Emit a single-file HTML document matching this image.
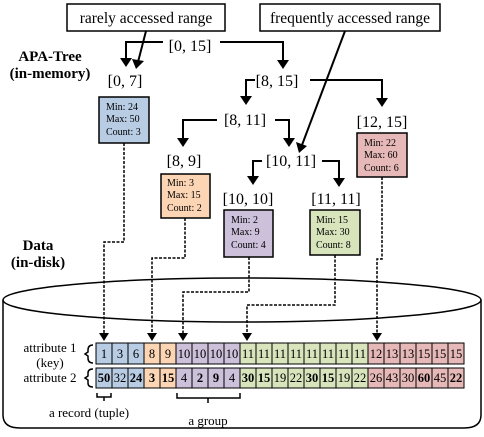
<!DOCTYPE html>
<html><head><meta charset="utf-8"><style>
html,body{margin:0;padding:0;background:#fff}
svg, svg text{font-family:"Liberation Serif","DejaVu Serif",serif}
</style></head><body>
<svg width="484" height="432" viewBox="0 0 484 432" xmlns="http://www.w3.org/2000/svg" font-family="Liberation Serif, DejaVu Serif, serif">
<!-- cylinder -->
<path d="M3,300 L3,415 Q3,428 20,428 L464,428 Q481,428 481,415 L481,300" fill="none" stroke="#000" stroke-width="1.5"/>
<ellipse cx="242" cy="300" rx="239" ry="22" fill="none" stroke="#000" stroke-width="1.5"/>
<g font-weight="bold" font-size="15" text-anchor="middle">
<text x="50" y="61">APA-Tree</text><text x="50" y="78">(in-memory)</text>
<text x="38" y="250">Data</text><text x="38" y="267">(in-disk)</text>
</g>
<rect x="67" y="4" width="158" height="27" fill="#fff" stroke="#000" stroke-width="1.5"/>
<text x="146" y="23" font-size="15.5" text-anchor="middle">rarely accessed range</text>
<rect x="260" y="4" width="180" height="27" fill="#fff" stroke="#000" stroke-width="1.5"/>
<text x="350" y="23" font-size="15.5" text-anchor="middle">frequently accessed range</text>
<g font-size="16" text-anchor="middle">
<text x="190" y="51">[0, 15]</text>
<text x="125" y="86">[0, 7]</text>
<text x="277" y="86">[8, 15]</text>
<text x="245" y="125">[8, 11]</text>
<text x="382" y="127">[12, 15]</text>
<text x="184" y="166">[8, 9]</text>
<text x="291" y="166">[10, 11]</text>
<text x="248" y="204">[10, 10]</text>
<text x="336" y="204">[11, 11]</text>
</g>
<g fill="none" stroke="#000" stroke-width="2">
<path d="M163,42 H126 V60"/><path d="M220,42 H283 V62"/>
<path d="M255,80 H246 V98"/><path d="M310,80 H382 V100"/>
<path d="M217,120 H183 V140"/><path d="M275,120 H289 V140"/>
<path d="M262,161 H253 V178"/><path d="M322,161 H339 V180"/>
<path d="M146,31 L138,62"/><path d="M345,31 L302,145"/>
</g>
<g fill="#000">
<path d="M120,58 L132,58 L126,67 Z"/><path d="M277,60 L289,60 L283,69 Z"/>
<path d="M240,96 L252,96 L246,105 Z"/><path d="M376,98 L388,98 L382,107 Z"/>
<path d="M177,138 L189,138 L183,147 Z"/><path d="M283,138 L295,138 L289,147 Z"/>
<path d="M247,176 L259,176 L253,185 Z"/><path d="M333,178 L345,178 L339,187 Z"/>
<path d="M132,59 L144,61 L136,69 Z"/><path d="M296,142 L307,146 L299,153 Z"/>
</g>
<g stroke="#000" stroke-width="1.5">
<rect x="99" y="97" width="50" height="46" fill="#b8cce4"/>
<rect x="161" y="174" width="49" height="44" fill="#fcd5b4"/>
<rect x="224" y="210" width="49" height="47" fill="#ccc0da"/>
<rect x="310" y="210" width="50" height="45" fill="#d7e4bc"/>
<rect x="357" y="133" width="50" height="44" fill="#e6b9b8"/>
</g>
<g font-size="10">
<text x="106" y="110">Min: 24</text><text x="106" y="122">Max: 50</text><text x="106" y="135">Count: 3</text>
<text x="167" y="186">Min: 3</text><text x="167" y="198">Max: 15</text><text x="167" y="211">Count: 2</text>
<text x="231" y="223">Min: 2</text><text x="231" y="235">Max: 9</text><text x="231" y="248">Count: 4</text>
<text x="316" y="223">Min: 15</text><text x="316" y="235">Max: 30</text><text x="316" y="248">Count: 8</text>
<text x="364" y="146">Min: 22</text><text x="364" y="158">Max: 60</text><text x="364" y="171">Count: 6</text>
</g>
<g fill="none" stroke="#000" stroke-width="1.5" stroke-dasharray="3,1.5">
<path d="M124,143 V242 H104 V336"/>
<path d="M185,218 V258 H152 V336"/>
<path d="M249,257 V292 H183 V336"/>
<path d="M335,255 V305 H247 V336"/>
<path d="M382,177 V259 H377 V336"/>
</g>
<g fill="#000">
<path d="M99,333 L109,333 L104,341 Z"/><path d="M147,333 L157,333 L152,341 Z"/>
<path d="M178,333 L188,333 L183,341 Z"/><path d="M242,333 L252,333 L247,341 Z"/>
<path d="M372,333 L382,333 L377,341 Z"/>
</g>
<g stroke="#000" stroke-width="1">
<rect x="96" y="343" width="16" height="21" fill="#b8cce4"/><rect x="112" y="343" width="16" height="21" fill="#b8cce4"/><rect x="128" y="343" width="16" height="21" fill="#b8cce4"/>
<rect x="144" y="343" width="16" height="21" fill="#fcd5b4"/><rect x="160" y="343" width="16" height="21" fill="#fcd5b4"/>
<rect x="176" y="343" width="16" height="21" fill="#ccc0da"/><rect x="192" y="343" width="16" height="21" fill="#ccc0da"/><rect x="208" y="343" width="16" height="21" fill="#ccc0da"/><rect x="224" y="343" width="16" height="21" fill="#ccc0da"/>
<rect x="240" y="343" width="16" height="21" fill="#d7e4bc"/><rect x="256" y="343" width="16" height="21" fill="#d7e4bc"/><rect x="272" y="343" width="16" height="21" fill="#d7e4bc"/><rect x="288" y="343" width="16" height="21" fill="#d7e4bc"/><rect x="304" y="343" width="16" height="21" fill="#d7e4bc"/><rect x="320" y="343" width="16" height="21" fill="#d7e4bc"/><rect x="336" y="343" width="16" height="21" fill="#d7e4bc"/><rect x="352" y="343" width="16" height="21" fill="#d7e4bc"/>
<rect x="368" y="343" width="16" height="21" fill="#e6b9b8"/><rect x="384" y="343" width="16" height="21" fill="#e6b9b8"/><rect x="400" y="343" width="16" height="21" fill="#e6b9b8"/><rect x="416" y="343" width="16" height="21" fill="#e6b9b8"/><rect x="432" y="343" width="16" height="21" fill="#e6b9b8"/><rect x="448" y="343" width="16" height="21" fill="#e6b9b8"/>
<rect x="96" y="368" width="16" height="20" fill="#b8cce4"/><rect x="112" y="368" width="16" height="20" fill="#b8cce4"/><rect x="128" y="368" width="16" height="20" fill="#b8cce4"/>
<rect x="144" y="368" width="16" height="20" fill="#fcd5b4"/><rect x="160" y="368" width="16" height="20" fill="#fcd5b4"/>
<rect x="176" y="368" width="16" height="20" fill="#ccc0da"/><rect x="192" y="368" width="16" height="20" fill="#ccc0da"/><rect x="208" y="368" width="16" height="20" fill="#ccc0da"/><rect x="224" y="368" width="16" height="20" fill="#ccc0da"/>
<rect x="240" y="368" width="16" height="20" fill="#d7e4bc"/><rect x="256" y="368" width="16" height="20" fill="#d7e4bc"/><rect x="272" y="368" width="16" height="20" fill="#d7e4bc"/><rect x="288" y="368" width="16" height="20" fill="#d7e4bc"/><rect x="304" y="368" width="16" height="20" fill="#d7e4bc"/><rect x="320" y="368" width="16" height="20" fill="#d7e4bc"/><rect x="336" y="368" width="16" height="20" fill="#d7e4bc"/><rect x="352" y="368" width="16" height="20" fill="#d7e4bc"/>
<rect x="368" y="368" width="16" height="20" fill="#e6b9b8"/><rect x="384" y="368" width="16" height="20" fill="#e6b9b8"/><rect x="400" y="368" width="16" height="20" fill="#e6b9b8"/><rect x="416" y="368" width="16" height="20" fill="#e6b9b8"/><rect x="432" y="368" width="16" height="20" fill="#e6b9b8"/><rect x="448" y="368" width="16" height="20" fill="#e6b9b8"/>
</g>
<g font-size="12.5" text-anchor="middle">
<text x="104" y="358">1</text><text x="120" y="358">3</text><text x="136" y="358">6</text><text x="152" y="358">8</text><text x="168" y="358">9</text>
<text x="184" y="358">10</text><text x="200" y="358">10</text><text x="216" y="358">10</text><text x="232" y="358">10</text>
<text x="248" y="358">11</text><text x="264" y="358">11</text><text x="280" y="358">11</text><text x="296" y="358">11</text><text x="312" y="358">11</text><text x="328" y="358">11</text><text x="344" y="358">11</text><text x="360" y="358">11</text>
<text x="376" y="358">12</text><text x="392" y="358">13</text><text x="408" y="358">13</text><text x="424" y="358">15</text><text x="440" y="358">15</text><text x="456" y="358">15</text>
<text x="104" y="382" font-weight="bold">50</text><text x="120" y="382">32</text><text x="136" y="382" font-weight="bold">24</text><text x="152" y="382" font-weight="bold">3</text><text x="168" y="382" font-weight="bold">15</text>
<text x="184" y="382">4</text><text x="200" y="382" font-weight="bold">2</text><text x="216" y="382" font-weight="bold">9</text><text x="232" y="382">4</text>
<text x="248" y="382" font-weight="bold">30</text><text x="264" y="382" font-weight="bold">15</text><text x="280" y="382">19</text><text x="296" y="382">22</text><text x="312" y="382" font-weight="bold">30</text><text x="328" y="382" font-weight="bold">15</text><text x="344" y="382">19</text><text x="360" y="382">22</text>
<text x="376" y="382">26</text><text x="392" y="382">43</text><text x="408" y="382">30</text><text x="424" y="382" font-weight="bold">60</text><text x="440" y="382">45</text><text x="456" y="382" font-weight="bold">22</text>
</g>
<g font-size="13" text-anchor="middle">
<text x="50" y="352">attribute 1</text><text x="50" y="367">(key)</text>
<text x="50" y="382">attribute 2</text>
<text x="89" y="417">a record (tuple)</text>
<text x="208" y="425">a group</text>
</g>
<g fill="none" stroke="#000" stroke-width="1.5">
<path d="M93,345 Q88,345 88,350 V352 L85,354 L88,356 V358 Q88,363 93,363"/>
<path d="M93,369 Q88,369 88,373 V376 L85,378 L88,380 V383 Q88,387 93,387"/>
<path d="M97,393 V397 H111 V393 M104,397 V401"/>
<path d="M177,393 V398 H240 V393 M208,398 V403"/>
</g>
</svg>
</body></html>
